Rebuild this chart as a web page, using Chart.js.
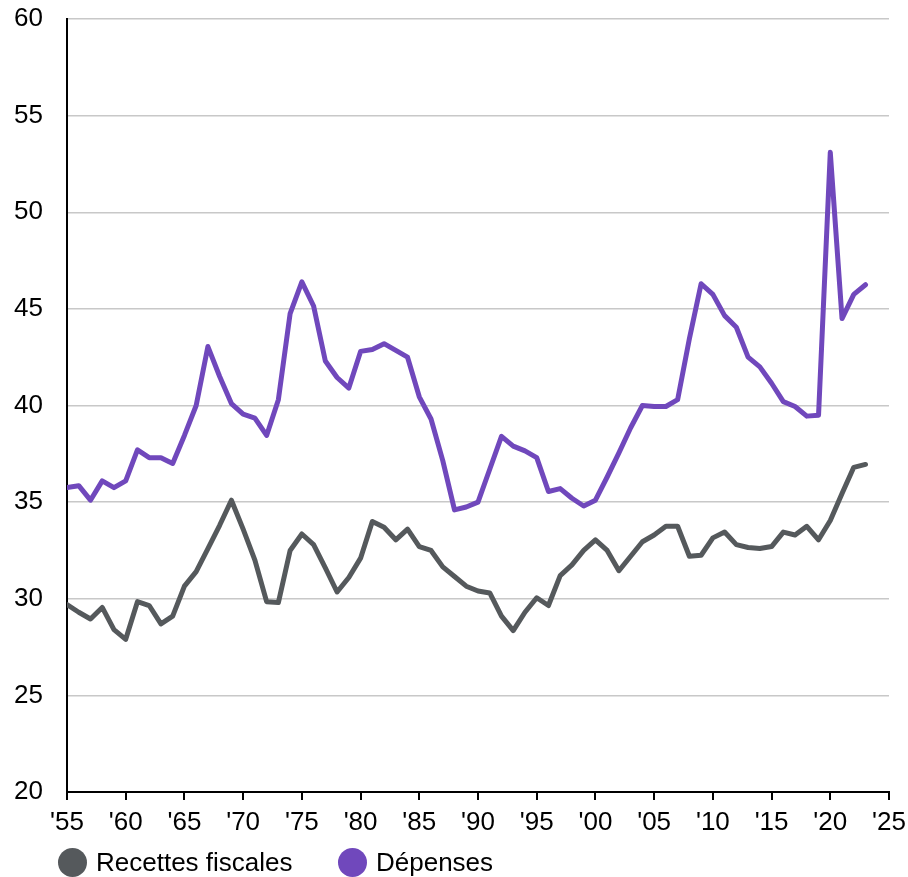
<!DOCTYPE html>
<html lang="fr">
<head>
<meta charset="utf-8">
<title>Recettes fiscales et dépenses</title>
<script src="https://cdn.jsdelivr.net/npm/chart.js@4.4.1/dist/chart.umd.min.js"></script>
<style>
  body { margin: 0; background: #fff; }
  #wrap { position: relative; width: 908px; height: 877px; }
  #legend { position: absolute; left: 0; top: 847px; width: 908px; height: 30px;
    font-family: "Liberation Sans", Arial, sans-serif; font-size: 26px; color: #000; }
  .item { position: absolute; top: 0; display: flex; align-items: center; height: 30px; }
  .dot { width: 29px; height: 29px; border-radius: 50%; margin-right: 9px; }
</style>
</head>
<body>
<div id="wrap">
  <canvas id="myChart"></canvas>
  <div id="legend"></div>
</div>
<script>
// années 1955 - 2023
const years = [
  1955, 1956, 1957, 1958, 1959, 1960, 1961, 1962, 1963, 1964,
  1965, 1966, 1967, 1968, 1969, 1970, 1971, 1972, 1973, 1974,
  1975, 1976, 1977, 1978, 1979, 1980, 1981, 1982, 1983, 1984,
  1985, 1986, 1987, 1988, 1989, 1990, 1991, 1992, 1993, 1994,
  1995, 1996, 1997, 1998, 1999, 2000, 2001, 2002, 2003, 2004,
  2005, 2006, 2007, 2008, 2009, 2010, 2011, 2012, 2013, 2014,
  2015, 2016, 2017, 2018, 2019, 2020, 2021, 2022, 2023,
];

const recettes = [
  29.7, 29.3, 28.95, 29.55, 28.4, 27.9, 29.85, 29.65, 28.7, 29.1,
  30.65, 31.4, 32.6, 33.8, 35.1, 33.6, 32.0, 29.85, 29.8, 32.5,
  33.35, 32.8, 31.6, 30.35, 31.1, 32.1, 34.0, 33.7, 33.05, 33.6,
  32.7, 32.5, 31.65, 31.15, 30.65, 30.4, 30.3, 29.1, 28.35, 29.3,
  30.05, 29.65, 31.2, 31.75, 32.5, 33.05, 32.5, 31.45, 32.2, 32.95,
  33.3, 33.75, 33.75, 32.2, 32.25, 33.15, 33.45, 32.8, 32.65, 32.6,
  32.7, 33.45, 33.3, 33.75, 33.05, 34.05, 35.45, 36.8, 36.95,
];

const depenses = [
  35.75, 35.85, 35.1, 36.1, 35.75, 36.1, 37.7, 37.3, 37.3, 37.0,
  38.45, 40.0, 43.05, 41.5, 40.1, 39.55, 39.35, 38.45, 40.3, 44.75,
  46.4, 45.15, 42.3, 41.45, 40.9, 42.8, 42.9, 43.2, 42.85, 42.5,
  40.45, 39.3, 37.15, 34.6, 34.75, 35.0, 36.7, 38.4, 37.9, 37.65,
  37.3, 35.55, 35.7, 35.2, 34.8, 35.1, 36.3, 37.55, 38.85, 40.0,
  39.95, 39.95, 40.3, 43.45, 46.3, 45.75, 44.65, 44.05, 42.5, 42.0,
  41.15, 40.2, 39.95, 39.45, 39.5, 53.1, 44.5, 45.75, 46.25,
];

const seriesLabels = ["Recettes fiscales", "Dépenses"];
const seriesColors = ["#55595c", "#7048bc"];

const FONT = '"Liberation Sans", Arial, sans-serif';

function toPoints(values) {
  return values.map((v, i) => ({ x: years[i], y: v }));
}

const datasets = [recettes, depenses].map((values, i) => ({
  label: seriesLabels[i],
  data: toPoints(values),
  borderColor: seriesColors[i],
  backgroundColor: seriesColors[i],
  borderWidth: 5,
  borderCapStyle: "round",
  borderJoinStyle: "round",
  pointRadius: 0,
  tension: 0,
}));

const ctx = document.getElementById("myChart").getContext("2d");
const myChart = new Chart(ctx, {
  type: "line",
  data: { datasets: datasets },
  options: {
    responsive: true,
    maintainAspectRatio: false,
    animation: false,
    layout: { padding: { left: 0, right: 19, top: 19, bottom: 0 } },
    plugins: {
      legend: { display: false },
      tooltip: { enabled: false },
    },
    scales: {
      x: {
        type: "linear",
        min: 1955,
        max: 2025,
        afterFit: (scale) => {
          // place fixe sous l'axe (légende en html)
          scale.height = 85;
          scale.paddingLeft = 0;
          scale.paddingRight = 0;
        },
        ticks: {
          stepSize: 5,
          padding: 7,
          color: "#000",
          font: { family: FONT, size: 26 },
          maxRotation: 0,
          callback: (v) => "'" + String(v).slice(2),
        },
        grid: {
          drawOnChartArea: false,
          drawTicks: true,
          tickLength: 8,
          color: "#000",
          lineWidth: 2,
        },
        border: { display: true, color: "#000", width: 2 },
      },
      y: {
        min: 20,
        max: 60,
        afterFit: (scale) => {
          scale.width = 67;
          scale.paddingTop = 0;
          scale.paddingBottom = 0;
        },
        ticks: {
          stepSize: 5,
          padding: 24,
          color: "#000",
          font: { family: FONT, size: 26 },
        },
        grid: { color: "#c8c8c8", lineWidth: 1.5, drawTicks: false },
        border: { display: true, color: "#000", width: 2 },
      },
    },
  },
});

// légende html
const legendLeft = [58, 338];
const legend = document.getElementById("legend");
myChart.data.datasets.forEach((ds, i) => {
  const item = document.createElement("div");
  item.className = "item";
  item.style.left = legendLeft[i] + "px";
  item.innerHTML = '<span class="dot" style="background:' + ds.borderColor + '"></span>' + ds.label;
  legend.appendChild(item);
});
</script>
</body>
</html>
